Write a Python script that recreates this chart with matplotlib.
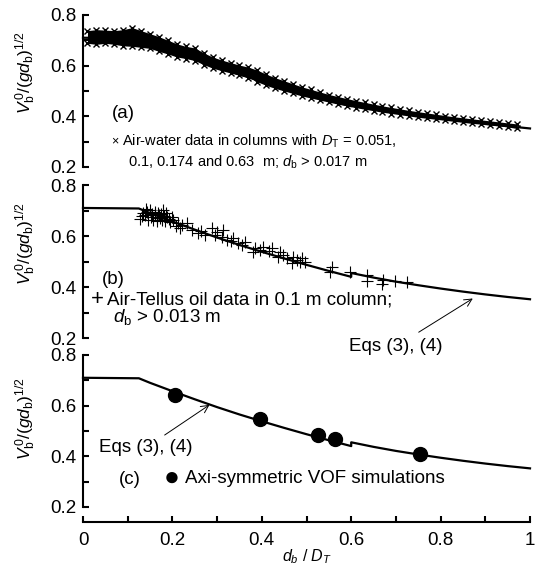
import matplotlib
matplotlib.use('Agg')
import matplotlib.pyplot as plt

plt.rcParams['font.family'] = ['Liberation Sans', 'DejaVu Sans']
plt.rcParams['font.size'] = 13
plt.rcParams['mathtext.fontset'] = 'custom'
plt.rcParams['mathtext.rm'] = 'Liberation Sans'
plt.rcParams['mathtext.it'] = 'Liberation Sans:italic'
plt.rcParams['mathtext.bf'] = 'Liberation Sans:bold'

# Eqs (3), (4) curve
curve_x = [0.0, 0.125, 0.15, 0.2, 0.25, 0.3, 0.35, 0.4, 0.45, 0.5, 0.55, 0.6, 0.6,
           0.65, 0.7, 0.75, 0.8, 0.85, 0.9, 0.95, 1.0]
curve_y = [0.71, 0.708, 0.690, 0.657, 0.625, 0.594, 0.565, 0.538, 0.512, 0.487, 0.463,
           0.440, 0.455, 0.437, 0.421, 0.407, 0.394, 0.382, 0.371, 0.361, 0.352]

# (a) air-water data band (upper / lower edge of the cloud of x markers)
water_x = [0.01, 0.03, 0.05, 0.07, 0.09, 0.11, 0.13, 0.15, 0.17, 0.19, 0.21, 0.23, 0.25,
           0.27, 0.29, 0.31, 0.33, 0.35, 0.37, 0.39, 0.41, 0.43, 0.45, 0.47, 0.49, 0.51,
           0.53, 0.55, 0.57, 0.59, 0.61, 0.63, 0.65, 0.67, 0.69, 0.71, 0.73, 0.75, 0.77,
           0.79, 0.81, 0.83, 0.85, 0.87, 0.89, 0.91, 0.93, 0.95, 0.97]
water_hi = [0.738, 0.742, 0.740, 0.738, 0.742, 0.750, 0.738, 0.726, 0.714, 0.700, 0.686,
            0.676, 0.670, 0.650, 0.634, 0.622, 0.612, 0.602, 0.594, 0.582, 0.566, 0.552,
            0.540, 0.528, 0.516, 0.506, 0.496, 0.486, 0.478, 0.470, 0.462, 0.455, 0.448,
            0.441, 0.435, 0.429, 0.423, 0.418, 0.413, 0.408, 0.403, 0.398, 0.394, 0.390,
            0.386, 0.382, 0.378, 0.374, 0.370]
water_lo = [0.688, 0.684, 0.688, 0.684, 0.678, 0.676, 0.672, 0.668, 0.656, 0.646, 0.634,
            0.628, 0.620, 0.604, 0.590, 0.580, 0.571, 0.562, 0.553, 0.536, 0.522, 0.510,
            0.500, 0.490, 0.480, 0.472, 0.464, 0.456, 0.448, 0.441, 0.434, 0.428, 0.422,
            0.416, 0.411, 0.406, 0.401, 0.396, 0.392, 0.388, 0.384, 0.380, 0.376, 0.372,
            0.369, 0.365, 0.362, 0.358, 0.352]

# (b) air-Tellus oil data
oil_x = [0.128, 0.135, 0.139, 0.146, 0.150, 0.157, 0.162, 0.168, 0.172, 0.179, 0.183,
         0.188, 0.195, 0.201, 0.140, 0.175, 0.213, 0.217, 0.232, 0.257, 0.273, 0.289,
         0.300, 0.311, 0.313, 0.322, 0.336, 0.347, 0.362, 0.380, 0.385, 0.403, 0.423,
         0.436, 0.441, 0.456, 0.468, 0.470, 0.485, 0.490, 0.497, 0.553, 0.557, 0.597,
         0.635, 0.635, 0.669, 0.671, 0.698, 0.725,
         0.132, 0.143, 0.153, 0.160, 0.165, 0.170, 0.177, 0.185, 0.192, 0.198, 0.155,
         0.166, 0.181, 0.207, 0.222, 0.244, 0.265, 0.295, 0.330, 0.355, 0.395, 0.415,
         0.448, 0.478]
oil_y = [0.668, 0.690, 0.682, 0.663, 0.702, 0.663, 0.685, 0.690, 0.670, 0.702, 0.660,
         0.675, 0.655, 0.663, 0.705, 0.688, 0.650, 0.631, 0.650, 0.612, 0.604, 0.631,
         0.616, 0.596, 0.624, 0.584, 0.592, 0.573, 0.576, 0.537, 0.553, 0.557, 0.553,
         0.518, 0.537, 0.514, 0.494, 0.518, 0.498, 0.514, 0.498, 0.459, 0.478, 0.459,
         0.447, 0.424, 0.412, 0.427, 0.424, 0.420,
         0.680, 0.695, 0.676, 0.696, 0.672, 0.684, 0.664, 0.692, 0.668, 0.676, 0.688,
         0.660, 0.678, 0.640, 0.642, 0.625, 0.618, 0.605, 0.580, 0.566, 0.545, 0.540,
         0.525, 0.505]

# (c) VOF simulations
vof_x = [0.205, 0.397, 0.526, 0.564, 0.753]
vof_y = [0.643, 0.547, 0.484, 0.467, 0.407]

x_ticks = [0, 0.2, 0.4, 0.6, 0.8, 1.0]
x_labels = ['0', '0.2', '0.4', '0.6', '0.8', '1']
y_ticks = [0.2, 0.4, 0.6, 0.8]
y_labels = ['0.2', '0.4', '0.6', '0.8']

ylab = r'$V_{\rm b}^{\,\rm 0}/(gd_{\rm b})^{\rm 1/2}$'

fig = plt.figure(figsize=(5.45, 5.66), dpi=100)
ax_a = fig.add_axes([0.1523, 0.705, 0.8202, 0.2686])
ax_b = fig.add_axes([0.1523, 0.4028, 0.8202, 0.2703])
ax_c = fig.add_axes([0.1523, 0.0777, 0.8202, 0.2951])


def style_axes(ax, bottom):
    ax.set_xlim(0, 1)
    ax.set_ylim(bottom, 0.8)
    for s in ['top', 'right']:
        ax.spines[s].set_visible(False)
    ax.spines['left'].set_bounds(0.2, 0.8)
    ax.spines['left'].set_linewidth(1.5)
    ax.set_yticks(y_ticks)
    ax.set_yticklabels(y_labels)
    ax.set_yticks([0.3, 0.5, 0.7], minor=True)
    ax.tick_params(axis='y', which='both', direction='in', length=4, width=1.5, pad=5,
                   labelsize=13.5)
    ax.set_ylabel(ylab, fontsize=12.5)
    ax.yaxis.set_label_coords(-0.10, 0.62)
    ax.plot(curve_x, curve_y, color='black', lw=1.6, clip_on=False, zorder=2)


style_axes(ax_a, 0.2)
style_axes(ax_b, 0.2)
style_axes(ax_c, 0.14)

for ax in [ax_a, ax_b]:
    ax.spines['bottom'].set_visible(False)
    ax.set_xticks([])

ax_c.spines['bottom'].set_linewidth(1.5)
ax_c.set_xticks(x_ticks)
ax_c.set_xticklabels(x_labels)
ax_c.set_xticks([0.1, 0.3, 0.5, 0.7, 0.9], minor=True)
ax_c.tick_params(axis='x', which='both', direction='in', length=4, width=1.5, pad=7,
                 labelsize=13.5)
ax_c.set_xlabel(r'$d_b\ /\ D_T$', fontsize=11.5, labelpad=-1)

# panel (a)
ax_a.fill_between(water_x, water_lo, water_hi, color='black', lw=0, zorder=3)
ax_a.plot(water_x, water_hi, ls='none', marker='x', ms=5, mew=1, color='black', zorder=3)
ax_a.plot(water_x, water_lo, ls='none', marker='x', ms=5, mew=1, color='black', zorder=3)
ax_a.text(0.065, 0.41, '(a)', va='center', ha='left', fontsize=13.5)
ax_a.text(0.064, 0.30, '\u00d7', va='center', ha='left', fontsize=9)
ax_a.text(0.087, 0.30, r'Air-water data in columns with $D_{\rm T}$ = 0.051,',
          va='center', ha='left', fontsize=10.5)
ax_a.text(0.10, 0.22, r'0.1, 0.174 and 0.63  m; $d_{\rm b}$ > 0.017 m',
          va='center', ha='left', fontsize=10.5)

# panel (b)
ax_b.plot(oil_x, oil_y, ls='none', marker='+', ms=9, mew=0.8, color='black', zorder=3)
ax_b.text(0.042, 0.43, '(b)', va='center', ha='left', fontsize=13.5)
ax_b.text(0.032, 0.35, '+', va='center', ha='center', fontsize=16, fontweight='light')
ax_b.text(0.053, 0.35, 'Air-Tellus oil data in 0.1 m column;', va='center', ha='left',
          fontsize=13.5)
ax_b.text(0.067, 0.283, r'$d_{\rm b}$ > 0.013 m', va='center', ha='left', fontsize=13.5)
ax_b.annotate('Eqs (3), (4)', xy=(0.872, 0.355), xytext=(0.70, 0.167),
              textcoords='data', va='center', ha='center', fontsize=13.5,
              annotation_clip=False,
              arrowprops=dict(arrowstyle='->', lw=0.7, color='black',
                              shrinkA=4, shrinkB=0))

# panel (c)
ax_c.plot(vof_x, vof_y, ls='none', marker='o', ms=10, color='black', zorder=3)
ax_c.annotate('Eqs (3), (4)', xy=(0.283, 0.603), xytext=(0.14, 0.433),
              textcoords='data', va='center', ha='center', fontsize=13.5,
              arrowprops=dict(arrowstyle='->', lw=0.7, color='black',
                              shrinkA=2, shrinkB=0))
ax_c.text(0.081, 0.307, '(c)', va='center', ha='left', fontsize=13.5)
ax_c.text(0.198, 0.313, '\u25cf', va='center', ha='center', fontsize=19)
ax_c.text(0.229, 0.313, 'Axi-symmetric VOF simulations', va='center', ha='left',
          fontsize=13.5)

fig.savefig('out.png', dpi=100)
